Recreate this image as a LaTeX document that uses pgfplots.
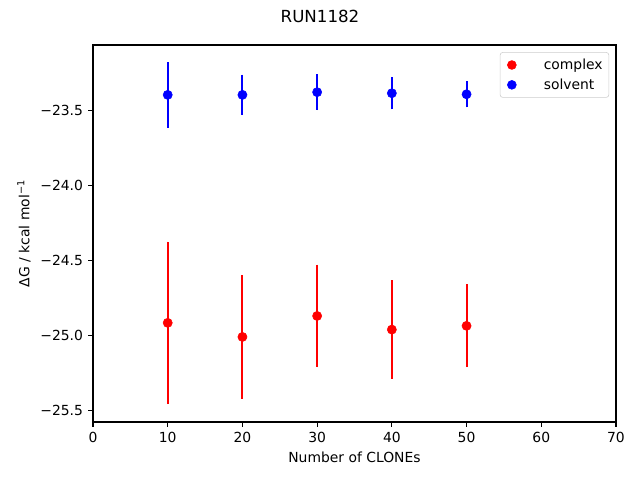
\documentclass[border=0pt]{standalone}
\usepackage{fontspec}
\setmainfont{DejaVu Sans}
\usepackage{pgfplots}
\pgfplotsset{compat=1.18}
\usepackage{pgfplotstable}
\pgfplotstableread{
x y e
10 -24.915 0.542
20 -25.009 0.413
30 -24.869 0.342
40 -24.960 0.329
50 -24.935 0.276
}\complex
\pgfplotstableread{
x y e
10 -23.393 0.219
20 -23.393 0.136
30 -23.375 0.120
40 -23.382 0.107
50 -23.389 0.087
}\solvent
\begin{document}
\begin{tikzpicture}[x=1pt,y=1pt]
\useasboundingbox (-66.96,-41.76) rectangle (393.84,303.84);
\begin{axis}[
  at={(0,0)}, anchor=south west,
  scale only axis, width=376.56pt, height=271.44pt,
  xmin=0, xmax=70, ymin=-25.577, ymax=-23.06,
  xtick={0,10,...,70},
  ytick={-25.5,-25,-24.5,-24,-23.5},
  tick align=outside, tick pos=left,
  major tick length=3.5pt,
  every tick/.style={black, line width=0.8pt},
  axis line style={line width=0.8pt},
  /pgf/number format/assume math mode=true,
  tick label style={font=\fontsize{10}{12}\selectfont},
  xticklabel style={inner sep=0pt, yshift=-3.5pt},
  yticklabel style={inner sep=0pt, xshift=-3.5pt},
  yticklabel={−\pgfmathparse{-\tick}\pgfmathprintnumber[fixed,fixed zerofill,precision=1]{\pgfmathresult}},
  xlabel={Number of CLONEs},
  xlabel style={font=\fontsize{10}{12}\selectfont, at={(axis description cs:0.5,0)}, anchor=center, yshift=-25.2pt},
  ylabel={ΔG / kcal mol\textsuperscript{−1}},
  ylabel style={font=\fontsize{10}{12}\selectfont, at={(axis description cs:-0.132,0.5)}, anchor=center},
  legend style={at={(axis description cs:0.987,0.981)}, anchor=north east,
    draw=black!20, rounded corners=2pt, font=\fontsize{10}{12}\selectfont,
    row sep=1.2pt, inner sep=2.5pt},
  legend cell align=left,
  legend image code/.code={\path[draw=none,fill=none] (-6pt,0) rectangle (21pt,0); \fill[#1] (0pt,0pt) circle (3.2pt);},
]
\addplot[only marks, mark=*, mark size=3.3pt, color=red, fill=red,
  error bars/.cd, y dir=both, y explicit, error mark=none,
  error bar style={line width=1.5pt, red}]
  table[x=x, y=y, y error=e] {\complex};
\addlegendentry{complex}
\addplot[only marks, mark=*, mark size=3.3pt, color=blue, fill=blue,
  error bars/.cd, y dir=both, y explicit, error mark=none,
  error bar style={line width=1.5pt, blue}]
  table[x=x, y=y, y error=e] {\solvent};
\addlegendentry{solvent}
\end{axis}
\node[font=\fontsize{12}{14}\selectfont, anchor=center] at (163.44,292.32) {RUN1182};
\end{tikzpicture}
\end{document}
